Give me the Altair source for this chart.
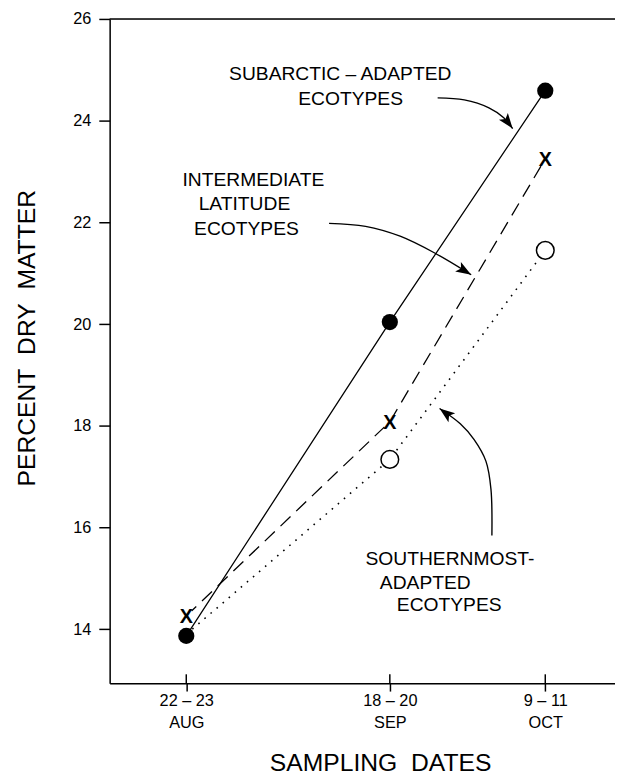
import altair as alt
import pandas as pd

FONT = "Liberation Sans"
NBSP = "\u00a0"

# ---- data -------------------------------------------------------------
# sampling dates as day-of-year (midpoint of each sampling window)
date_days = [234.5, 262, 283]
date_top = ["22 – 23", "18 – 20", "9 – 11"]
date_bottom = ["AUG", "SEP", "OCT"]

subarctic = [13.87, 20.04, 24.59]
intermediate = [14.26, 18.08, 23.25]
southernmost = [13.90, 17.34, 21.45]

y_ticks = [14, 16, 18, 20, 22, 24, 26]

# annotation text lines (data coordinates)
note_text = ["SUBARCTIC – ADAPTED", "ECOTYPES",
             "INTERMEDIATE", "LATITUDE", "ECOTYPES",
             "SOUTHERNMOST-", "ADAPTED", "ECOTYPES"]
note_x = [255.3, 256.7, 243.56, 242.36, 242.63, 270.12, 266.79, 270.02]
note_y = [24.91, 24.43, 22.835, 22.369, 21.870, 15.379, 14.913, 14.466]

# curved arrows (data coordinates)
arrow_id = [1, 1, 1, 1, 1,
            2, 2, 2, 2, 2,
            3, 3, 3, 3, 3, 3]
arrow_x = [268.46, 272.06, 275.39, 277.39, 278.59,
           253.79, 258.72, 263.39, 268.06, 272.99,
           275.79, 275.66, 274.99, 273.39, 271.52, 268.72]
arrow_y = [24.447, 24.408, 24.252, 24.058, 23.845,
           21.981, 21.922, 21.728, 21.398, 20.971,
           15.845, 16.757, 17.301, 17.728, 18.039, 18.340]
head_x = [278.59, 272.99, 268.72]
head_y = [23.845, 20.971, 18.340]
head_angle = [143, 121, 307]

# ---- frames -----------------------------------------------------------
series = pd.DataFrame({
    "x": date_days * 3,
    "y": subarctic + intermediate + southernmost,
    "s": ["sub"] * 3 + ["int"] * 3 + ["south"] * 3,
})
sub_df = series[series.s == "sub"]
int_df = series[series.s == "int"]
south_df = series[series.s == "south"]
south_marks = south_df.iloc[1:]  # first point is hidden under the filled dot

ticks_df = pd.DataFrame({"x": date_days})
notes_df = pd.DataFrame({"x": note_x, "y": note_y, "t": note_text})
arrows_df = pd.DataFrame({"x": arrow_x, "y": arrow_y, "id": arrow_id,
                          "i": list(range(len(arrow_x)))})
heads_df = pd.DataFrame({"x": head_x, "y": head_y, "a": head_angle})

W, H = 512, 673

label_expr = " : ".join(
    f"datum.value == {d} ? ['{t}', '{b}']"
    for d, t, b in zip(date_days, date_top, date_bottom)
) + " : ''"

x_axis = alt.Axis(
    values=date_days, labelExpr=label_expr, grid=False,
    tickSize=8, tickColor="black", tickWidth=1.5,
    domainColor="black", domainWidth=1.5,
    labelFont=FONT, labelFontSize=16.5, labelColor="black",
    labelPadding=2, labelBaseline="top", labelLineHeight=22,
    title=f"SAMPLING{NBSP}{NBSP}DATES", titleFont=FONT, titleFontSize=25,
    titleFontWeight="normal", titleColor="black",
    titleX=274, titleY=88, titleBaseline="alphabetic", titleAlign="center",
)
y_axis = alt.Axis(
    values=y_ticks, grid=False,
    tickSize=11, tickColor="black", tickWidth=1.5,
    domainColor="black", domainWidth=1.5,
    labelFont=FONT, labelFontSize=16.5, labelColor="black",
    labelPadding=8,
    title=f"PERCENT{NBSP}{NBSP}DRY{NBSP}{NBSP}MATTER", titleFont=FONT,
    titleFontSize=25, titleFontWeight="normal", titleColor="black",
    titleX=-76, titleY=323, titleBaseline="alphabetic", titleAlign="center",
    titleAngle=270,
)

xs = alt.Scale(domain=[224.15, 292.42], nice=False, zero=False)
ys = alt.Scale(domain=[12.94, 26], nice=False, zero=False)
X = alt.X("x:Q", scale=xs, axis=x_axis)
Y = alt.Y("y:Q", scale=ys, axis=y_axis)

top_border = alt.Chart(pd.DataFrame({"a": [0]})).mark_rule(
    color="black", strokeWidth=1.5
).encode(x=alt.value(0), x2=alt.value(W), y=alt.value(0))

inner_ticks = alt.Chart(ticks_df).mark_rule(color="black", strokeWidth=1.5).encode(
    x=X, y=alt.value(H - 9), y2=alt.value(H)
)

line_sub = alt.Chart(sub_df).mark_line(color="black", strokeWidth=1.3).encode(x=X, y=Y)
line_int = alt.Chart(int_df).mark_line(
    color="black", strokeWidth=1.3, strokeDash=[14, 8]
).encode(x=X, y=Y)
line_south = alt.Chart(south_df).mark_line(
    color="black", strokeWidth=1.6, strokeDash=[1.6, 6.5]
).encode(x=X, y=Y)

x_bg = alt.Chart(int_df).mark_point(
    filled=True, color="white", opacity=1, size=230, shape="circle"
).encode(x=X, y=Y)
x_marks = alt.Chart(int_df).mark_text(
    text="X", font=FONT, fontSize=20, fontWeight="bold", color="black",
    baseline="middle", dy=1
).encode(x=X, y=Y)

open_dots = alt.Chart(south_marks).mark_point(
    filled=True, fill="white", stroke="black", strokeWidth=1.5,
    opacity=1, size=320, shape="circle"
).encode(x=X, y=Y)
filled_dots = alt.Chart(sub_df).mark_point(
    filled=True, color="black", opacity=1, size=270, shape="circle"
).encode(x=X, y=Y)

notes = alt.Chart(notes_df).mark_text(
    font=FONT, fontSize=19.5, color="black", align="center", baseline="middle"
).encode(x=X, y=Y, text="t:N")

arrows = alt.Chart(arrows_df).mark_line(
    color="black", strokeWidth=1.4, interpolate="catmull-rom"
).encode(x=X, y=Y, detail="id:N", order="i:Q")

heads = alt.Chart(heads_df).mark_point(
    shape="M0,0L0.8,2.2L0,1.7L-0.8,2.2Z", filled=True, color="black",
    opacity=1, size=200
).encode(x=X, y=Y, angle=alt.Angle("a:Q", scale=None))

chart = alt.layer(
    top_border, inner_ticks, line_sub, line_int, line_south,
    x_bg, x_marks, open_dots, filled_dots, notes, arrows, heads
).properties(
    width=W, height=H,
    padding={"left": 103, "top": 6, "right": 0, "bottom": 93},
    autosize="none",
).configure_view(stroke=None).configure(background="white")

chart.save("out.html", embed_options={"renderer": "svg", "actions": False})
